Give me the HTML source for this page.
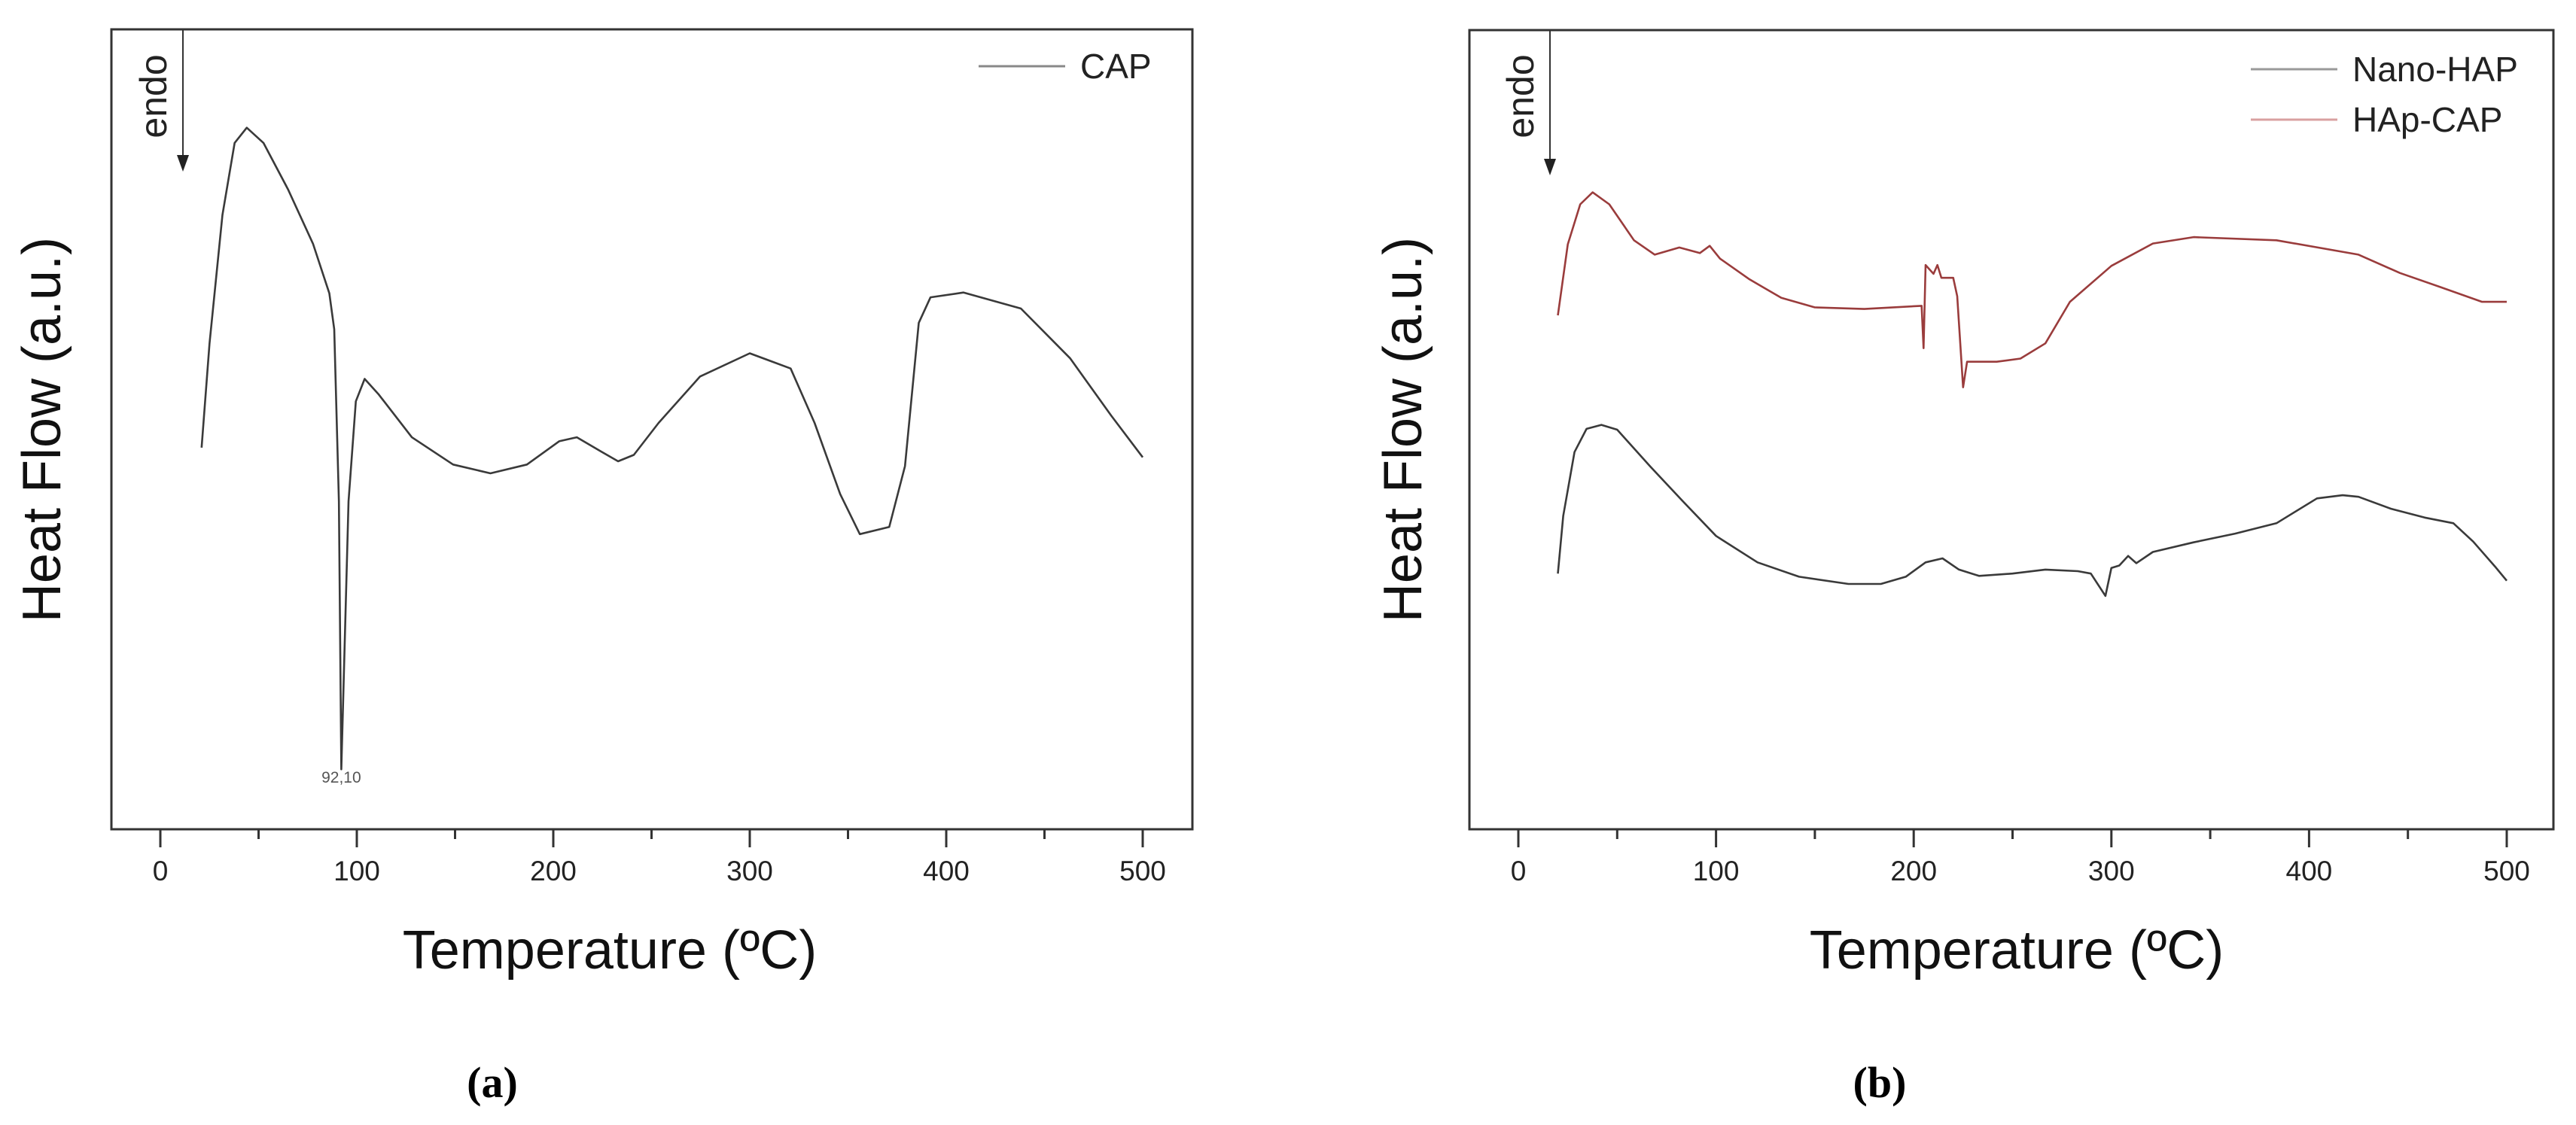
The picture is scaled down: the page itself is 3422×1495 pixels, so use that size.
<!DOCTYPE html>
<html><head><meta charset="utf-8"><style>
html,body{margin:0;padding:0;background:#fff;}
svg{display:block;font-family:"Liberation Sans",Arial,sans-serif;}
</style></head><body>
<svg id="fig" width="3422" height="1495" viewBox="0 0 3422 1495" xmlns="http://www.w3.org/2000/svg">
<rect width="3422" height="1495" fill="#fff"/>
</svg>
<script>
const xTicks = [0, 100, 200, 300, 400, 500];
const xTickLabels = ["0", "100", "200", "300", "400", "500"];
const xMinorTicks = [50, 150, 250, 350, 450];

const capT = [21,25,31.6,37.8,44,52.5,65,77.7,86,88.5,90.9,92.1,95.8,99.5,104,111,128,149,168,186.6,203,212,224.5,233,241,253.6,274.7,300,320.8,333,346,356,371,379,386,392,408.8,438,463,484,500];
const capV = [47.7,60.7,76.8,85.8,87.7,85.8,80,73.2,67,62.5,41,7.5,41,53.5,56.3,54.4,49,45.6,44.5,45.6,48.5,49,47.2,46,46.8,50.8,56.6,59.5,57.6,50.8,41.9,36.9,37.8,45.4,63.3,66.5,67.1,65.1,58.9,51.7,46.5];

const hapcapT = [20,25,31.3,37.6,46,58.5,69,81.4,91.8,96.8,102,117,133,150,175,204,205,206,210,212,214,220,222,225,227,242,254,266.6,279,300,321,341.6,383.5,425,446,467,487.5,500];
const hapcapV = [64.3,73.2,78.2,79.7,78.2,73.7,71.9,72.8,72.1,73,71.4,68.8,66.5,65.3,65.1,65.5,60.2,70.6,69.5,70.6,69,69,66.7,55.3,58.5,58.5,58.9,60.8,66,70.5,73.3,74.1,73.7,71.9,69.6,67.8,66,66];

const nanoT = [20,22.7,28.4,34.5,42,50,66.7,83.4,100,121,142,167,183.4,196,206,214.6,222.9,233,250,266.6,283,289.6,297,300,304,308.5,312.6,321,341.6,362.6,383.5,404,417,425,441.5,458.5,473,483,494,500];
const nanoV = [32,39.2,47.2,50.1,50.6,50,45.4,41,36.7,33.4,31.6,30.7,30.7,31.6,33.4,33.9,32.5,31.7,32,32.5,32.3,32,29.2,32.7,33,34.2,33.3,34.7,35.9,37,38.3,41.4,41.8,41.6,40.1,39,38.3,36,32.9,31.1];

const NS = "http://www.w3.org/2000/svg";
const svg = document.getElementById('fig');
function mk(tag, attrs, parent, text){
  const e = document.createElementNS(NS, tag);
  for (const k in attrs) e.setAttribute(k, attrs[k]);
  if (text !== undefined) e.textContent = text;
  (parent || svg).appendChild(e);
  return e;
}

function panel(cfg){
  const g = mk('g', {});
  
  
  const xs = t => cfg.x0 + t * cfg.pxPerDeg;
  const ys = v => cfg.bottom - v * (cfg.bottom - cfg.top) / 100;
  const frame = mk('rect', {x:cfg.left, y:cfg.top, width:cfg.right-cfg.left, height:cfg.bottom-cfg.top, fill:'none', stroke:'#333', 'stroke-width':3}, g);
  
  
  xTicks.forEach((t, i) => {
    const tk = mk('line', {x1:xs(t), x2:xs(t), y1:cfg.bottom, y2:cfg.bottom+24, stroke:'#333', 'stroke-width':3}, g);
    
    
    const lb = mk('text', {x:xs(t), y:cfg.bottom+68, 'font-size':37, fill:'#222', 'text-anchor':'middle'}, g, xTickLabels[i]);
    
    
  });
  xMinorTicks.forEach(t => {
    const tk = mk('line', {x1:xs(t), x2:xs(t), y1:cfg.bottom, y2:cfg.bottom+13, stroke:'#333', 'stroke-width':3}, g);
    
    
  });
  cfg.series.forEach(s => {
    const d = s.T.map((t, i) => (i ? 'L' : 'M') + xs(t).toFixed(1) + ',' + ys(s.V[i]).toFixed(1)).join(' ');
    const p = mk('path', {d:d, fill:'none', stroke:s.color, 'stroke-width':2.6, 'stroke-linejoin':'round'}, g);
    
    
  });
  const xt = mk('text', {x:cfg.xTitleX, y:1287, 'font-size':72, fill:'#111', 'text-anchor':'middle'}, g, 'Temperature (\u00BAC)');
  
  
  const yt = mk('text', {x:0, y:0, 'font-size':72, fill:'#111', 'text-anchor':'middle', transform:'translate(' + cfg.yTitleX + ',571) rotate(-90)'}, g, 'Heat Flow (a.u.)');
  
  
  const ar = mk('line', {x1:cfg.arrowX, x2:cfg.arrowX, y1:cfg.top, y2:cfg.arrowTip-18, stroke:'#333', 'stroke-width':2}, g);
  
  
  const ah = mk('polygon', {points:(cfg.arrowX-8)+','+(cfg.arrowTip-22)+' '+(cfg.arrowX+8)+','+(cfg.arrowTip-22)+' '+cfg.arrowX+','+cfg.arrowTip, fill:'#222'}, g);
  
  
  const en = mk('text', {x:0, y:0, 'font-size':50, fill:'#222', 'text-anchor':'middle', transform:'translate(' + (cfg.arrowX-22) + ',128) rotate(-90)'}, g, 'endo');
  
  
  cfg.legend.forEach((l, i) => {
    const y = cfg.legY + i * 67;
    const ll = mk('line', {x1:cfg.legX, x2:cfg.legX+115, y1:y, y2:y, stroke:l.color, 'stroke-width':3}, g);
    
    
    const lt = mk('text', {x:cfg.legX+135, y:y+16, 'font-size':46, fill:'#222'}, g, l.label);
    
    
  });
  const pl = mk('text', {x:cfg.capX, y:1458, 'font-size':58, 'font-weight':'bold', fill:'#000', 'text-anchor':'middle', 'font-family':'Liberation Serif, serif'}, g, cfg.caption);
  
  
  return {xs, ys, g};
}

const A = panel({name:'panel-a', left:148, right:1584, top:39, bottom:1102, x0:213, pxPerDeg:2.61,
  xTitleX:810, yTitleX:80, arrowX:243, arrowTip:228, legX:1300, legY:88, capX:654, caption:'(a)',
  series:[{name:'cap-curve', T:capT, V:capV, color:'#3a3a3a'}],
  legend:[{label:'CAP', color:'#888'}]});
const ann = mk('text', {x:A.xs(92.1), y:1040, 'font-size':21, fill:'#555', 'text-anchor':'middle'}, A.g, '92,10');



panel({name:'panel-b', left:1952, right:3392, top:40, bottom:1102, x0:2017, pxPerDeg:2.626,
  xTitleX:2679, yTitleX:1888, arrowX:2059, arrowTip:233, legX:2990, legY:92, capX:2497, caption:'(b)',
  series:[{name:'hapcap-curve', T:hapcapT, V:hapcapV, color:'#9a3c3c'},{name:'nano-hap-curve', T:nanoT, V:nanoV, color:'#3a3a3a'}],
  legend:[{label:'Nano-HAP', color:'#999'},{label:'HAp-CAP', color:'#d9a0a0'}]});
</script>
</body></html>
